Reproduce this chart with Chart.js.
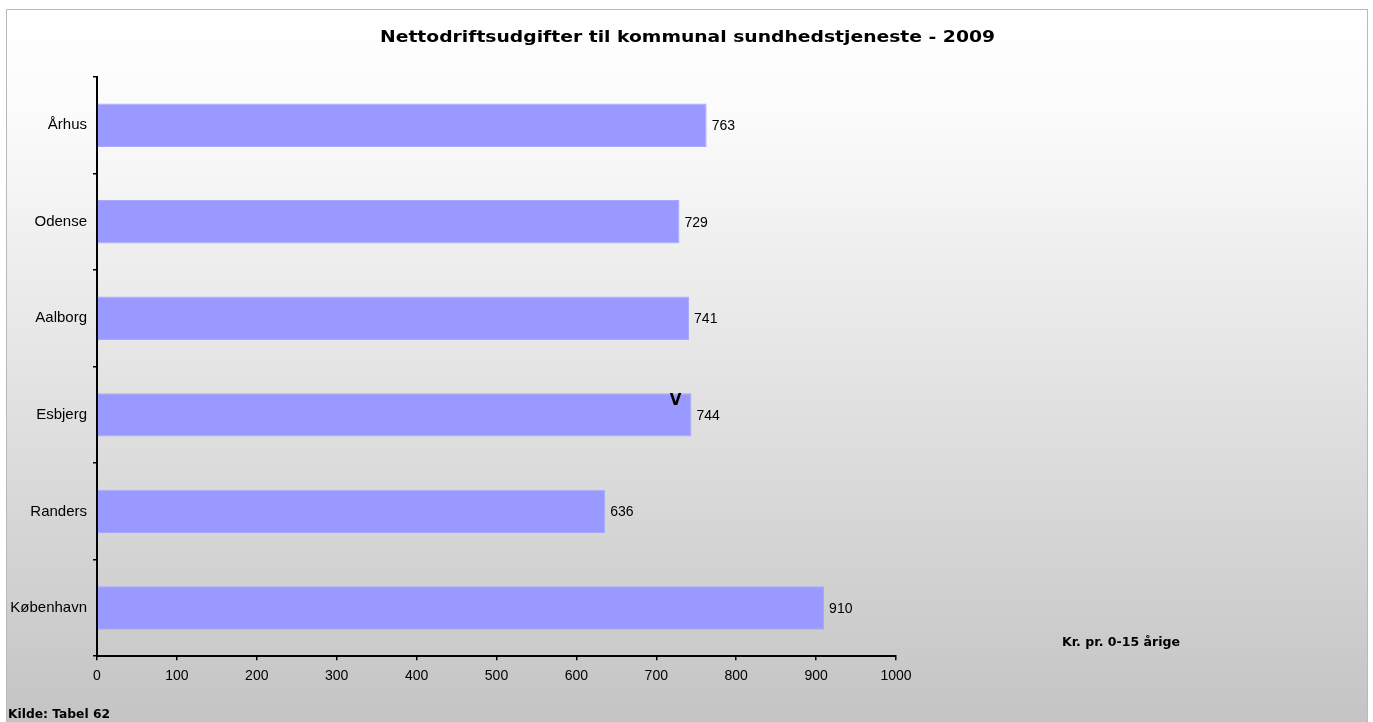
<!DOCTYPE html>
<html>
<head>
<meta charset="utf-8">
<script src="https://cdn.jsdelivr.net/npm/chart.js@4"></script>
<style>
  html, body { margin: 0; padding: 0; background: #fff; }
  canvas { display: block; }
</style>
</head>
<body>
<canvas id="chart" width="1373" height="722"></canvas>
<script>
const categories = ["Århus", "Odense", "Aalborg", "Esbjerg", "Randers", "København"];
const values = [763, 729, 741, 744, 636, 910];
const xTicks = [0, 100, 200, 300, 400, 500, 600, 700, 800, 900, 1000];

const titleText = "Nettodriftsudgifter til kommunal sundhedstjeneste - 2009";
const unitText = "Kr. pr. 0-15 årige";
const sourceText = "Kilde: Tabel 62";

// draw text stretched to a given width (the original looks widened)
function wideText(ctx, text, x, y, width) {
  const w = ctx.measureText(text).width;
  ctx.save();
  ctx.translate(x, y);
  ctx.scale(width / w, 1);
  ctx.fillText(text, 0, 0);
  ctx.restore();
}

// background frame with grey gradient + title
const backgroundPlugin = {
  id: "bg",
  beforeDraw(chart) {
    const ctx = chart.ctx;
    const g = ctx.createLinearGradient(0, 9, 0, 722);
    g.addColorStop(0, "#ffffff");
    g.addColorStop(0.15, "#fbfbfb");
    g.addColorStop(1, "#c4c4c4");
    ctx.save();
    ctx.fillStyle = g;
    ctx.fillRect(6, 9, 1362, 713);
    ctx.strokeStyle = "#b8b8b8";
    ctx.lineWidth = 1;
    ctx.beginPath();
    ctx.moveTo(6.5, 722);
    ctx.lineTo(6.5, 9.5);
    ctx.lineTo(1367.5, 9.5);
    ctx.lineTo(1367.5, 722);
    ctx.stroke();

    ctx.fillStyle = "#000";
    ctx.font = "bold 16px 'DejaVu Sans'";
    ctx.textBaseline = "middle";
    ctx.textAlign = "left";
    wideText(ctx, titleText, 380, 38, 615);
    ctx.restore();
  }
};

// value labels, stray "V" and footer texts
const labelPlugin = {
  id: "labels",
  afterDatasetsDraw(chart) {
    const ctx = chart.ctx;
    const xs = chart.scales.x;
    const ys = chart.scales.y;
    ctx.save();
    ctx.fillStyle = "#000";
    ctx.font = "14px 'Liberation Sans'";
    ctx.textBaseline = "middle";
    ctx.textAlign = "left";
    values.forEach((v, i) => {
      ctx.fillText(String(v), xs.getPixelForValue(v) + 5, ys.getPixelForValue(i) + 1);
    });

    ctx.font = "bold 15px 'DejaVu Sans'";
    ctx.textAlign = "center";
    ctx.fillText("V", xs.getPixelForValue(724), ys.getPixelForValue(3) - 14);

    ctx.font = "bold 12px 'DejaVu Sans'";
    ctx.textAlign = "left";
    wideText(ctx, unitText, 1062, 643, 118);
    wideText(ctx, sourceText, 8, 715, 102);
    ctx.restore();
  }
};

new Chart(document.getElementById("chart"), {
  type: "bar",
  data: {
    labels: categories,
    datasets: [
      {
        data: values,
        backgroundColor: "#9999ff",
        borderColor: "#a8a8ff",
        borderWidth: 1,
        categoryPercentage: 1,
        barPercentage: 0.45
      }
    ]
  },
  options: {
    indexAxis: "y",
    responsive: false,
    animation: false,
    layout: { padding: { left: 6, right: 477, top: 77, bottom: 29 } },
    plugins: {
      legend: { display: false },
      tooltip: { enabled: false },
      title: { display: false }
    },
    scales: {
      x: {
        min: 0,
        max: 1000,
        afterBuildTicks(scale) {
          scale.ticks = xTicks.map((v) => ({ value: v }));
        },
        border: { color: "#000", width: 2 },
        grid: { drawOnChartArea: false, drawTicks: true, tickLength: 4, color: "#000", lineWidth: 1.5 },
        ticks: {
          color: "#000",
          padding: 8,
          font: { family: "Liberation Sans", size: 14 },
          callback: (v) => String(v)
        }
      },
      y: {
        offset: true,
        afterFit(scale) {
          scale.width = 91;
        },
        border: { color: "#000", width: 2 },
        grid: { offset: true, drawOnChartArea: false, drawTicks: true, tickLength: 4, color: "#000", lineWidth: 1.5 },
        ticks: { color: "#000", padding: 6, font: { family: "Liberation Sans", size: 15 } }
      }
    }
  },
  plugins: [backgroundPlugin, labelPlugin]
});
</script>
</body>
</html>
